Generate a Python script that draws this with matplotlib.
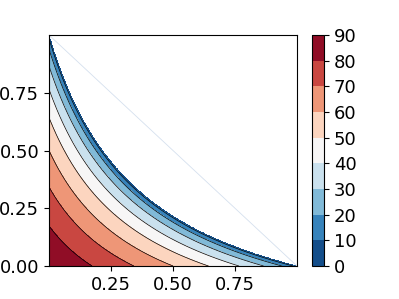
import numpy as np
import matplotlib
matplotlib.use("Agg")
import matplotlib.pyplot as plt

levels = [0, 10, 20, 30, 40, 50, 60, 70, 80, 90]
cbar_ticks = [0, 10, 20, 30, 40, 50, 60, 70, 80, 90]
xticks = [0.25, 0.50, 0.75]
yticks = [0.00, 0.25, 0.50, 0.75]
coupling = 2.64  # cross-term coefficient of the field

n = 600
xs = np.linspace(0, 1, n)
ys = np.linspace(0, 1, n)
X, Y = np.meshgrid(xs, ys)
G = X + Y + coupling * X * Y
Z = np.full_like(G, np.nan)
ok = (G <= 1) & (X + Y <= 1)
Z[ok] = np.degrees(np.arccos(G[ok]))

fig = plt.figure(figsize=(3.99, 2.99), dpi=100)
ax = fig.add_axes([49/399, 33/299, 248/399, 231/299])
cf = ax.contourf(X, Y, Z, levels=levels, cmap="RdBu_r")
ax.contour(X, Y, Z, levels=levels[1:-1], colors="k", linewidths=0.5)
ax.contour(X, Y, Z, levels=[0.3], colors="#08306b", linewidths=0.6)
ax.plot([0, 1], [1, 0], color="#d5e0ee", lw=0.6)
ax.set_xlim(0, 1)
ax.set_ylim(0, 1)
ax.set_xticks(xticks)
ax.set_yticks(yticks)
ax.tick_params(labelsize=13)

cax = fig.add_axes([312/399, 33/299, 12/399, 231/299])
cb = fig.colorbar(cf, cax=cax, ticks=cbar_ticks)
cb.ax.tick_params(labelsize=13)
cb.outline.set_linewidth(0.8)

fig.savefig("out.png", dpi=100)
